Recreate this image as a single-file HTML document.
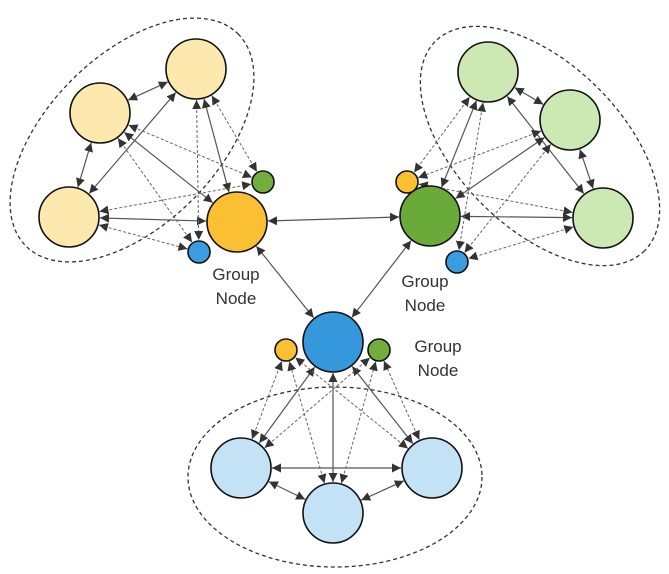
<!DOCTYPE html>
<html><head><meta charset="utf-8"><style>
html,body{margin:0;padding:0;background:#fff;}
svg{display:block;}
text{font-family:"Liberation Sans",sans-serif;font-size:17px;fill:#333;text-anchor:middle;}
</style></head><body>
<svg id="s" width="669" height="574" viewBox="0 0 669 574" xmlns="http://www.w3.org/2000/svg">
<defs>
<marker id="ah" viewBox="0 0 10 10" refX="10" refY="5" markerWidth="9" markerHeight="9" markerUnits="userSpaceOnUse" orient="auto-start-reverse">
<path d="M0,0 L10,5 L0,10 z" fill="#333"/>
</marker>
</defs>
<g fill="none" stroke="#333" stroke-width="1.3" stroke-dasharray="4,3">
<ellipse cx="132" cy="140" rx="150" ry="85" transform="rotate(-45 132 140)"/>
<ellipse cx="540" cy="146" rx="148" ry="82" transform="rotate(45 540 146)"/>
<ellipse cx="335" cy="477" rx="147" ry="90"/>
</g>
<g id="edges"></g>
<g id="nodes" stroke="#111" stroke-width="1.6"></g>
<text x="236" y="280">Group</text><text x="236" y="304">Node</text>
<text x="425" y="287">Group</text><text x="425" y="311">Node</text>
<text x="438" y="352">Group</text><text x="438" y="376">Node</text>
</svg>
<script>
var N={
A:[196,69,30,'#fde9ad'],B:[100,113,30,'#fde9ad'],C:[69,217,30,'#fde9ad'],
G:[237,222,30,'#fbbf33'],g1:[263,182,11,'#72ad3f'],b1:[199,252,11,'#3b9de0'],
D:[488,72,30,'#cce8b3'],E:[570,120,30,'#cce8b3'],F:[603,218,30,'#cce8b3'],
H:[430,216,30,'#6aaa3a'],o2:[407,182,11,'#fbbf33'],b2:[457,262,11,'#3b9de0'],
K:[333,342,30,'#3597dc'],o3:[286,350,11,'#fbbf33'],g3:[379,350,11,'#72ad3f'],
L:[241,468,30,'#c3e2f6'],M:[333,513,30,'#c3e2f6'],P:[432,468,30,'#c3e2f6']};
var solid=[['A','B'],['B','C'],['A','C'],['B','G'],['A','G'],['C','G'],
['D','E'],['E','F'],['D','F'],['E','H'],['D','H'],['F','H'],
['L','M'],['M','P'],['L','P'],['K','L'],['K','M'],['K','P'],
['G','H'],['G','K'],['H','K']];
var dot=[['B','g1'],['B','b1'],['A','b1'],['A','g1'],['C','g1'],['C','b1'],
['D','o2'],['D','b2'],['E','o2'],['E','b2'],['F','o2'],['F','b2'],
['L','o3'],['L','g3'],['M','o3'],['M','g3'],['P','o3'],['P','g3']];
var ns='http://www.w3.org/2000/svg',eg=document.getElementById('edges'),ng=document.getElementById('nodes');
function line(a,b,d){var p=N[a],q=N[b],dx=q[0]-p[0],dy=q[1]-p[1],l=Math.hypot(dx,dy),ux=dx/l,uy=dy/l;
var e=document.createElementNS(ns,'line');
e.setAttribute('x1',p[0]+ux*(p[2]+1));e.setAttribute('y1',p[1]+uy*(p[2]+1));
e.setAttribute('x2',q[0]-ux*(q[2]+1));e.setAttribute('y2',q[1]-uy*(q[2]+1));
e.setAttribute('stroke',d?'#666':'#555');e.setAttribute('stroke-width',d?'1':'1.2');
if(d)e.setAttribute('stroke-dasharray','3,2');
e.setAttribute('marker-start','url(#ah)');e.setAttribute('marker-end','url(#ah)');eg.appendChild(e);}
solid.forEach(function(x){line(x[0],x[1],false)});dot.forEach(function(x){line(x[0],x[1],true)});
for(var k in N){var c=document.createElementNS(ns,'circle'),p=N[k];c.setAttribute('cx',p[0]);c.setAttribute('cy',p[1]);c.setAttribute('r',p[2]);c.setAttribute('fill',p[3]);ng.appendChild(c);}
</script>
</body></html>
